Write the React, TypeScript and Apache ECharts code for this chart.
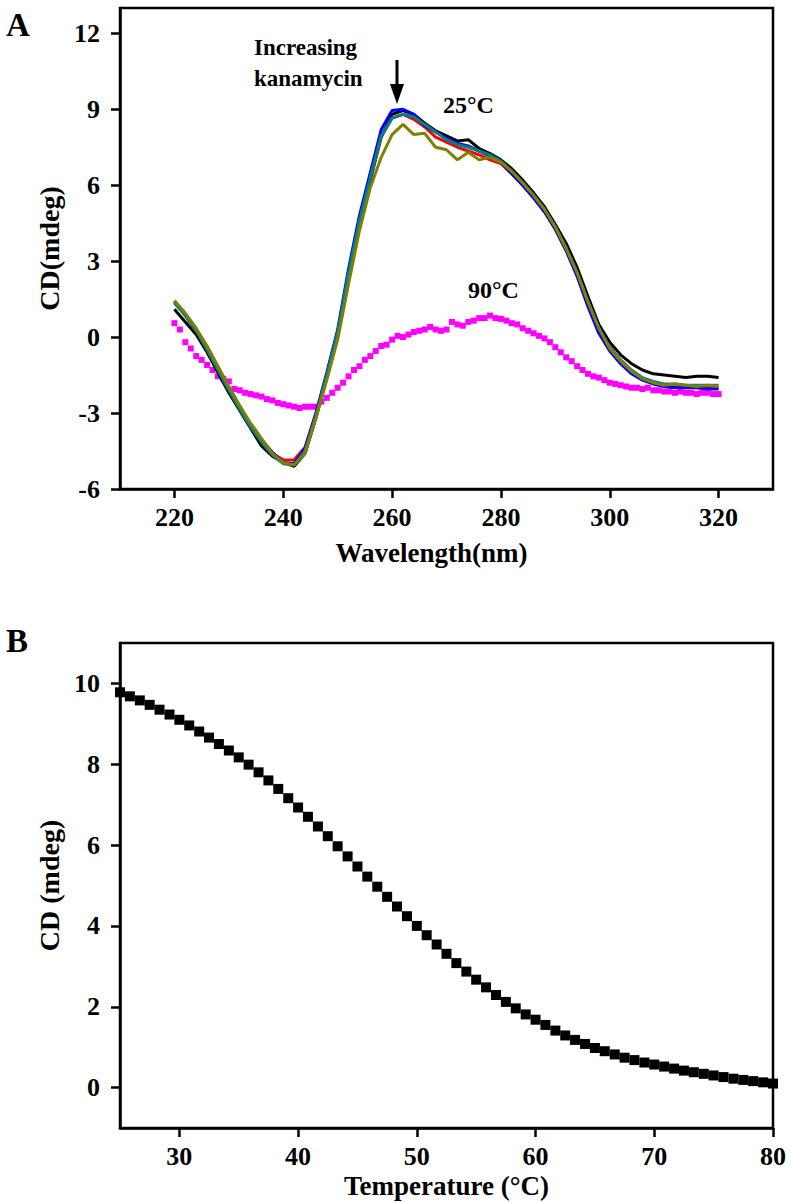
import React, { useEffect, useRef } from "react";
import * as echarts from "echarts";

// ---------- Panel A data ----------
const wl2 = [220,222,224,226,228,230,232,234,236,238,240,242,244,246,248,250,252,254,256,258,260,262,264,266,268,270,272,274,276,278,280,282,284,286,288,290,292,294,296,298,300,302,304,306,308,310,312,314,316,318,320];
const cdBlack = [1.1,0.6,0.1,-0.6,-1.4,-2.2,-2.9,-3.6,-4.3,-4.7,-4.95,-5.1,-4.6,-3.2,-1.6,0.1,2.4,4.5,6.2,7.9,8.8,8.95,8.8,8.45,8.15,7.95,7.75,7.8,7.45,7.25,7.0,6.65,6.2,5.7,5.15,4.45,3.7,2.75,1.6,0.5,-0.2,-0.7,-1.05,-1.3,-1.45,-1.5,-1.55,-1.6,-1.55,-1.55,-1.6];
const cdRed = [1.4,0.85,0.25,-0.45,-1.25,-2.05,-2.8,-3.5,-4.1,-4.6,-4.85,-4.85,-4.35,-3.05,-1.5,0.2,2.5,4.6,6.3,7.9,8.65,8.8,8.6,8.3,7.9,7.7,7.5,7.35,7.2,7.0,6.85,6.45,6.0,5.5,4.95,4.3,3.5,2.5,1.35,0.3,-0.45,-0.95,-1.35,-1.65,-1.8,-1.9,-1.95,-1.95,-2.0,-2.0,-2.0];
const cdBlue = [1.4,0.9,0.3,-0.4,-1.2,-2.0,-2.75,-3.45,-4.05,-4.55,-4.95,-5.0,-4.4,-3.0,-1.4,0.3,2.7,4.8,6.5,8.2,8.95,9.0,8.8,8.35,8.1,7.85,7.65,7.55,7.35,7.15,6.9,6.45,6.0,5.5,4.95,4.25,3.4,2.4,1.2,0.15,-0.55,-1.05,-1.45,-1.7,-1.85,-1.95,-2.0,-2.0,-2.0,-2.05,-2.05];
const cdTeal = [1.35,0.85,0.25,-0.5,-1.3,-2.1,-2.85,-3.55,-4.15,-4.65,-5.0,-5.05,-4.5,-3.1,-1.5,0.2,2.55,4.6,6.3,7.95,8.65,8.8,8.7,8.4,8.1,7.8,7.6,7.5,7.35,7.2,6.95,6.55,6.1,5.6,5.05,4.35,3.5,2.55,1.4,0.35,-0.4,-0.9,-1.3,-1.6,-1.75,-1.85,-1.85,-1.9,-1.9,-1.9,-1.9];
const cdOlive = [1.45,0.95,0.35,-0.35,-1.15,-1.95,-2.7,-3.4,-4.0,-4.6,-4.95,-5.05,-4.6,-3.2,-1.7,-0.1,2.1,4.2,5.9,7.1,8.0,8.4,8.0,8.05,7.5,7.4,7.0,7.3,7.0,7.1,6.9,6.55,6.1,5.6,5.05,4.35,3.5,2.55,1.4,0.35,-0.45,-0.95,-1.35,-1.65,-1.8,-1.9,-1.85,-1.9,-1.95,-1.9,-1.95];

const wl1 = [220,221,222,223,224,225,226,227,228,229,230,231,232,233,234,235,236,237,238,239,240,241,242,243,244,245,246,247,248,249,250,251,252,253,254,255,256,257,258,259,260,261,262,263,264,265,266,267,268,269,270,271,272,273,274,275,276,277,278,279,280,281,282,283,284,285,286,287,288,289,290,291,292,293,294,295,296,297,298,299,300,301,302,303,304,305,306,307,308,309,310,311,312,313,314,315,316,317,318,319,320];
const cd90 = [0.55,0.3,-0.2,-0.45,-0.75,-0.9,-1.1,-1.3,-1.55,-1.65,-1.75,-2.05,-2.1,-2.2,-2.25,-2.3,-2.35,-2.45,-2.5,-2.6,-2.65,-2.7,-2.75,-2.8,-2.75,-2.75,-2.75,-2.55,-2.4,-2.2,-2.0,-1.8,-1.55,-1.3,-1.15,-0.9,-0.75,-0.55,-0.35,-0.3,-0.1,0.05,0.0,0.1,0.2,0.25,0.3,0.4,0.3,0.25,0.3,0.6,0.5,0.45,0.6,0.65,0.75,0.75,0.85,0.75,0.72,0.65,0.55,0.5,0.35,0.25,0.15,0.05,-0.05,-0.2,-0.4,-0.6,-0.8,-0.95,-1.15,-1.3,-1.45,-1.55,-1.6,-1.7,-1.8,-1.85,-1.9,-1.95,-2.0,-2.0,-2.05,-2.0,-2.1,-2.1,-2.15,-2.15,-2.2,-2.15,-2.2,-2.2,-2.25,-2.2,-2.2,-2.25,-2.25];

const xTicksA = [220, 240, 260, 280, 300, 320];
const yTicksA = [-6, -3, 0, 3, 6, 9, 12];

// ---------- Panel B data ----------
const tempsB = [25.00,25.83,26.67,27.50,28.33,29.17,30.00,30.83,31.67,32.50,33.33,34.17,35.00,35.83,36.67,37.50,38.33,39.17,40.00,40.83,41.67,42.50,43.33,44.17,45.00,45.83,46.67,47.50,48.33,49.17,50.00,50.83,51.67,52.50,53.33,54.17,55.00,55.83,56.67,57.50,58.33,59.17,60.00,60.83,61.67,62.50,63.33,64.17,65.00,65.83,66.67,67.50,68.33,69.17,70.00,70.83,71.67,72.50,73.33,74.17,75.00,75.83,76.67,77.50,78.33,79.17,80.00];
const cdB = [9.78,9.68,9.58,9.47,9.35,9.23,9.10,8.96,8.81,8.66,8.50,8.34,8.17,7.99,7.80,7.60,7.39,7.16,6.93,6.70,6.46,6.22,5.97,5.72,5.47,5.22,4.97,4.72,4.48,4.24,4.00,3.77,3.54,3.31,3.08,2.87,2.67,2.48,2.29,2.12,1.96,1.81,1.68,1.55,1.41,1.29,1.18,1.08,0.98,0.90,0.82,0.74,0.68,0.62,0.57,0.52,0.47,0.42,0.38,0.34,0.30,0.26,0.22,0.19,0.16,0.13,0.10];

const xTicksB = [30, 40, 50, 60, 70, 80];
const yTicksB = [0, 2, 4, 6, 8, 10];

const FONT = "Liberation Serif";

const lines25 = [
  { name: "c0", color: "#000000", data: cdBlack },
  { name: "c1", color: "#FF0000", data: cdRed },
  { name: "c2", color: "#0000FF", data: cdBlue },
  { name: "c3", color: "#008080", data: cdTeal },
  { name: "c4", color: "#808000", data: cdOlive },
];

function xAxisCfg(gridIndex: number, min: number, max: number, ticks: number[], name: string, nameGap: number, padRight: number) {
  return {
    type: "value",
    gridIndex,
    min,
    max,
    name,
    nameLocation: "middle",
    nameGap,
    nameTextStyle: { fontFamily: FONT, fontWeight: "bold", fontSize: 27, color: "#000", padding: [0, padRight, 0, 0] },
    axisLine: { show: true, onZero: false, lineStyle: { color: "#000", width: 2.5 } },
    axisTick: { show: true, customValues: ticks, length: 9, lineStyle: { color: "#000", width: 2.5 } },
    axisLabel: { customValues: ticks, margin: 15, fontFamily: FONT, fontWeight: "bold", fontSize: 26, color: "#000" },
    splitLine: { show: false },
  };
}

function yAxisCfg(gridIndex: number, min: number, max: number, ticks: number[], name: string, nameGap: number) {
  return {
    type: "value",
    gridIndex,
    min,
    max,
    name,
    nameLocation: "middle",
    nameGap,
    nameTextStyle: { fontFamily: FONT, fontWeight: "bold", fontSize: 28, color: "#000" },
    axisLine: { show: true, onZero: false, lineStyle: { color: "#000", width: 2.5 } },
    axisTick: { show: true, customValues: ticks, length: 9, lineStyle: { color: "#000", width: 2.5 } },
    axisLabel: { customValues: ticks, margin: 20, fontFamily: FONT, fontWeight: "bold", fontSize: 26, color: "#000" },
    splitLine: { show: false },
  };
}

export default function App() {
  const ref = useRef<HTMLDivElement>(null);
  useEffect(() => {
    document.body.style.margin = "0";
    if (!ref.current) return;
    const chart = echarts.init(ref.current, undefined, { renderer: "svg" });
    const series: any[] = [
      {
        type: "scatter",
        xAxisIndex: 0,
        yAxisIndex: 0,
        symbol: "rect",
        symbolSize: 6,
        itemStyle: { color: "#FF00FF", opacity: 1 },
        data: wl1.map((w, i) => [w, cd90[i]]),
        z: 2,
      },
      ...lines25.map((l) => ({
        type: "line",
        name: l.name,
        xAxisIndex: 0,
        yAxisIndex: 0,
        showSymbol: false,
        symbol: "none",
        lineStyle: { color: l.color, width: 3 },
        itemStyle: { color: l.color },
        data: wl2.map((w, i) => [w, l.data[i]]),
        z: 3,
      })),
      {
        type: "scatter",
        xAxisIndex: 1,
        yAxisIndex: 1,
        symbol: "rect",
        symbolSize: 10,
        itemStyle: { color: "#000", opacity: 1 },
        data: tempsB.map((t, i) => [t, cdB[i]]),
      },
    ];
    const txt = (text: string, x: number, y: number, size: number, weight = "bold") => ({
      type: "text",
      x,
      y,
      style: { text, fontFamily: FONT, fontSize: size, fontWeight: weight, fill: "#000", align: "left", verticalAlign: "middle" },
    });
    chart.setOption({
      animation: false,
      backgroundColor: "#fff",
      grid: [
        { left: 120, top: 8, right: 17, height: 481, show: true, borderColor: "#000", borderWidth: 2.5 },
        { left: 120, top: 643, right: 17, height: 485, show: true, borderColor: "#000", borderWidth: 2.5 },
      ],
      xAxis: [
        xAxisCfg(0, 210, 330, xTicksA, "Wavelength(nm)", 50, 30),
        xAxisCfg(1, 25, 80, xTicksB, "Temperature (°C)", 44, 0),
      ],
      yAxis: [
        yAxisCfg(0, -6, 13, yTicksA, "CD(mdeg)", 50),
        yAxisCfg(1, -1, 11, yTicksB, "CD (mdeg)", 46),
      ],
      series,
      graphic: [
        txt("A", 6, 25, 33),
        txt("B", 6, 641, 33),
        txt("Increasing", 254, 47, 23),
        txt("kanamycin", 254, 78, 23),
        txt("25°C", 443, 105, 24),
        txt("90°C", 468, 290, 24),
        { type: "line", shape: { x1: 397, y1: 60, x2: 397, y2: 90 }, style: { stroke: "#000", lineWidth: 3 } },
        { type: "polygon", shape: { points: [[390, 84], [404, 84], [397, 104]] }, style: { fill: "#000" } },
      ],
    });
    return () => chart.dispose();
  }, []);
  return <div ref={ref} style={{ width: 790, height: 1202 }} />;
}
